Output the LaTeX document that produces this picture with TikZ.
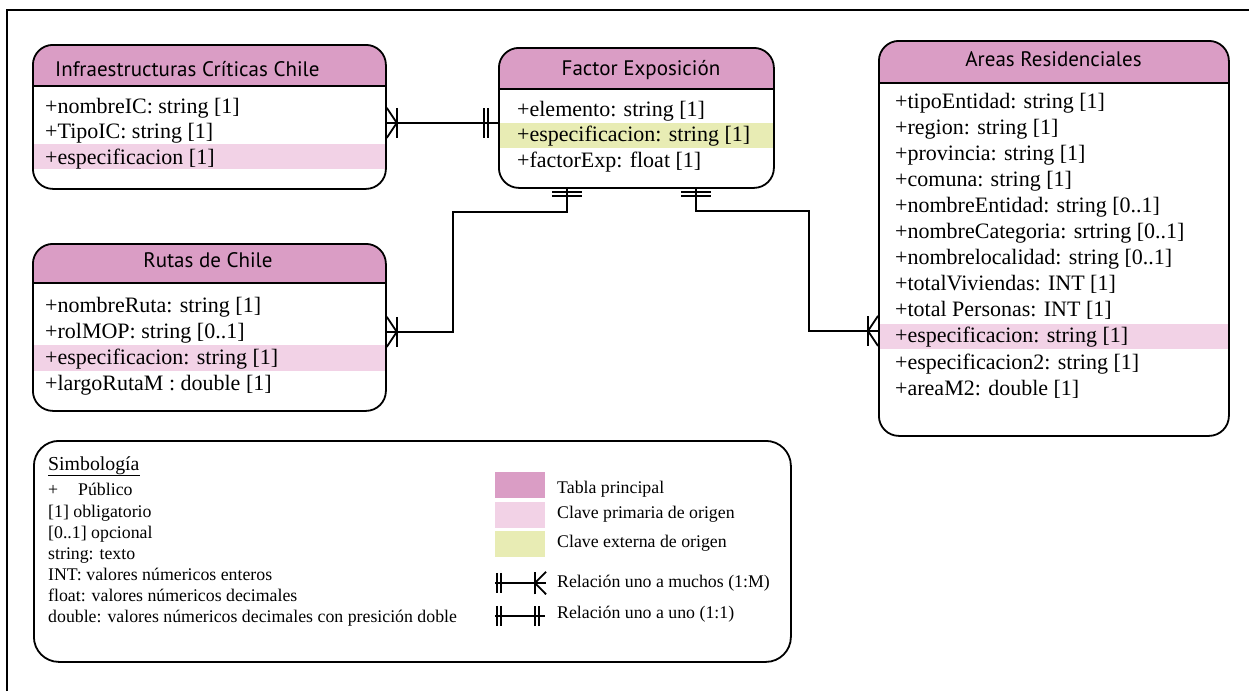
\documentclass[tikz,border=0pt]{standalone}
\usepackage{fontspec}
\setmainfont{Liberation Serif}
\newfontfamily\hdrfont{PT Sans}
\usetikzlibrary{calc}

\definecolor{hdrpink}{RGB}{218,157,197}
\definecolor{keypink}{RGB}{242,210,230}
\definecolor{keylime}{RGB}{232,236,180}

\tikzset{
  conn/.style={line width=1.8pt},
  ertable/.style n args={4}{draw, line width=1.8pt, rounded corners=20pt, inner sep=0pt,
    anchor=north west,
    path picture={
      \fill[hdrpink, sharp corners] (path picture bounding box.north west)
        rectangle ([yshift=-#1]path picture bounding box.north east);
      \fill[#4, sharp corners] ([yshift=-#2]path picture bounding box.north west)
        rectangle ([yshift=-#3]path picture bounding box.north east);
      \draw[line width=1.8pt, sharp corners] ([yshift=-#1]path picture bounding box.north west)
        -- ([yshift=-#1]path picture bounding box.north east);
    }},
  hdr/.style={font=\hdrfont\fontsize{21}{21}\selectfont, inner sep=0pt, anchor=base},
  row/.style={font=\fontsize{22}{22}\selectfont, inner sep=0pt, anchor=base west},
  leg/.style={font=\fontsize{17.8}{17.8}\selectfont, inner sep=0pt, anchor=base west},
  swatch/.style={minimum width=50pt, minimum height=25.5pt, inner sep=0pt, anchor=north west},
  many/.pic={
    \draw[conn] (0,-15) -- (10,0) -- (0,15);
    \draw[conn] (10,-15) -- (10,15);
  },
  onebars/.pic={
    \draw[conn] (#1,-15) -- (#1,15);
    \draw[conn] ({#1+4},-15) -- ({#1+4},15);
  },
}

\begin{document}
\begin{tikzpicture}[x=1pt,y=-1pt]
\useasboundingbox (0,0) rectangle (1249,691);

% outer frame (top and left edges)
\draw[line width=1.8pt] (7,691) -- (7,10) -- (1249,10);

% ---------- tables ----------
\node[ertable={41pt}{99pt}{124pt}{keypink}, minimum width=353pt, minimum height=144pt] (ic) at (32,44) {};
\node[hdr, anchor=base west] (ich) at (55,76) {Infraestructuras Críticas Chile};
\node[row] (ic1) at (45,113)   {+nombreIC: string [1]};
\node[row] (ic2) at (45,138.5) {+TipoIC: string [1]};
\node[row] (ic3) at (45,164)   {+especificacion [1]};

\node[ertable={41pt}{75pt}{100pt}{keylime}, minimum width=275pt, minimum height=140pt] (fe) at (498,47) {};
\node[hdr] (feh) at (641,75) {Factor Exposición};
\node[row] (fe1) at (517,116)   {+elemento: string [1]};
\node[row] (fe2) at (517,141.5) {+especificacion: string [1]};
\node[row] (fe3) at (517,167)   {+factorExp: float [1]};

\node[ertable={42pt}{283pt}{308pt}{keypink}, minimum width=350pt, minimum height=395pt] (ar) at (878,40) {};
\node[hdr] (arh) at (1053.5,66) {Areas Residenciales};
\foreach \t [count=\i from 0] in {
  {+tipoEntidad: string [1]},
  {+region: string [1]},
  {+provincia: string [1]},
  {+comuna: string [1]},
  {+nombreEntidad: string [0..1]},
  {+nombreCategoria: srtring [0..1]},
  {+nombrelocalidad: string [0..1]},
  {+totalViviendas: INT [1]},
  {+total Personas: INT [1]},
  {+especificacion: string [1]},
  {+especificacion2: string [1]},
  {+areaM2: double [1]}}
  \node[row] (ar\i) at (895,{108+26.1*\i}) {\t};

\node[ertable={39pt}{101pt}{127pt}{keypink}, minimum width=353pt, minimum height=167pt] (rt) at (32,243) {};
\node[hdr] (rth) at (208,267) {Rutas de Chile};
\node[row] (rt1) at (45,312) {+nombreRuta: string [1]};
\node[row] (rt2) at (45,338) {+rolMOP: string [0..1]};
\node[row] (rt3) at (45,364) {+especificacion: string [1]};
\node[row] (rt4) at (45,390) {+largoRutaM : double [1]};

% ---------- relations ----------
\draw[conn] ([yshift=-6pt]ic.east) -- ([yshift=-6pt]ic.east -| fe.west);
\pic at ([yshift=-6pt]ic.east) {many};
\pic[rotate=180] at ([yshift=-6pt]ic.east -| fe.west) {onebars=10};

\draw[conn] ([xshift=-69.5pt]fe.south) -- ++(0,23) -- ++(-114,0) |- ([yshift=-4.5pt]rt.east);
\pic[rotate=-90] at ([xshift=-69.5pt]fe.south) {onebars=3};
\pic at ([yshift=-4.5pt]rt.east) {many};

\draw[conn] ([xshift=59.5pt]fe.south) -- ++(0,22) -- ++(113,0) |- ([yshift=-92.5pt]ar.west);
\pic[rotate=-90] at ([xshift=59.5pt]fe.south) {onebars=3};
\pic[rotate=180] at ([yshift=-92.5pt]ar.west) {many};

% ---------- legend ----------
\node[draw, line width=1.8pt, rounded corners=25pt, inner sep=0pt, anchor=north west,
      minimum width=757pt, minimum height=221pt] (leg) at (33,440) {};
\node[leg, font=\fontsize{19.8}{19.8}\selectfont] (sim) at (48,470) {\underline{Simbología}};
\node[leg] (l1) at (48,495) {\makebox[30pt][l]{+}Público};
\node[leg] (l2) at (48,517) {[1] obligatorio};
\node[leg] (l3) at (48,538) {[0..1] opcional};
\node[leg] (l4) at (48,559) {string: texto};
\node[leg] (l5) at (48,580) {INT: valores númericos enteros};
\node[leg] (l6) at (48,601) {float: valores númericos decimales};
\node[leg] (l7) at (48,622) {double: valores númericos decimales con presición doble};

\node[swatch, fill=hdrpink] (sw1) at (495,472) {};
\node[swatch, fill=keypink] (sw2) at (495,502) {};
\node[swatch, fill=keylime, minimum height=26pt] (sw3) at (495,531) {};
\node[leg] (t1) at (557,493) {Tabla principal};
\node[leg] (t2) at (557,518) {Clave primaria de origen};
\node[leg] (t3) at (557,547) {Clave externa de origen};

\coordinate (ma) at (495,583);
\coordinate (mb) at (546,583);
\draw[conn] (ma) -- (mb);
\pic[yscale=0.67] at (ma) {onebars=2};
\pic[rotate=180, xscale=1.1, yscale=0.75] at (mb) {many};
\node[leg] (t4) at (557,587) {Relación uno a muchos (1:M)};

\coordinate (oa) at (495,616);
\coordinate (ob) at (545,616);
\draw[conn] (oa) -- (ob);
\pic[yscale=0.67] at (oa) {onebars=2};
\pic[rotate=180, yscale=0.67] at (ob) {onebars=6};
\node[leg] (t5) at (557,618) {Relación uno a uno (1:1)};
\end{tikzpicture}
\end{document}
